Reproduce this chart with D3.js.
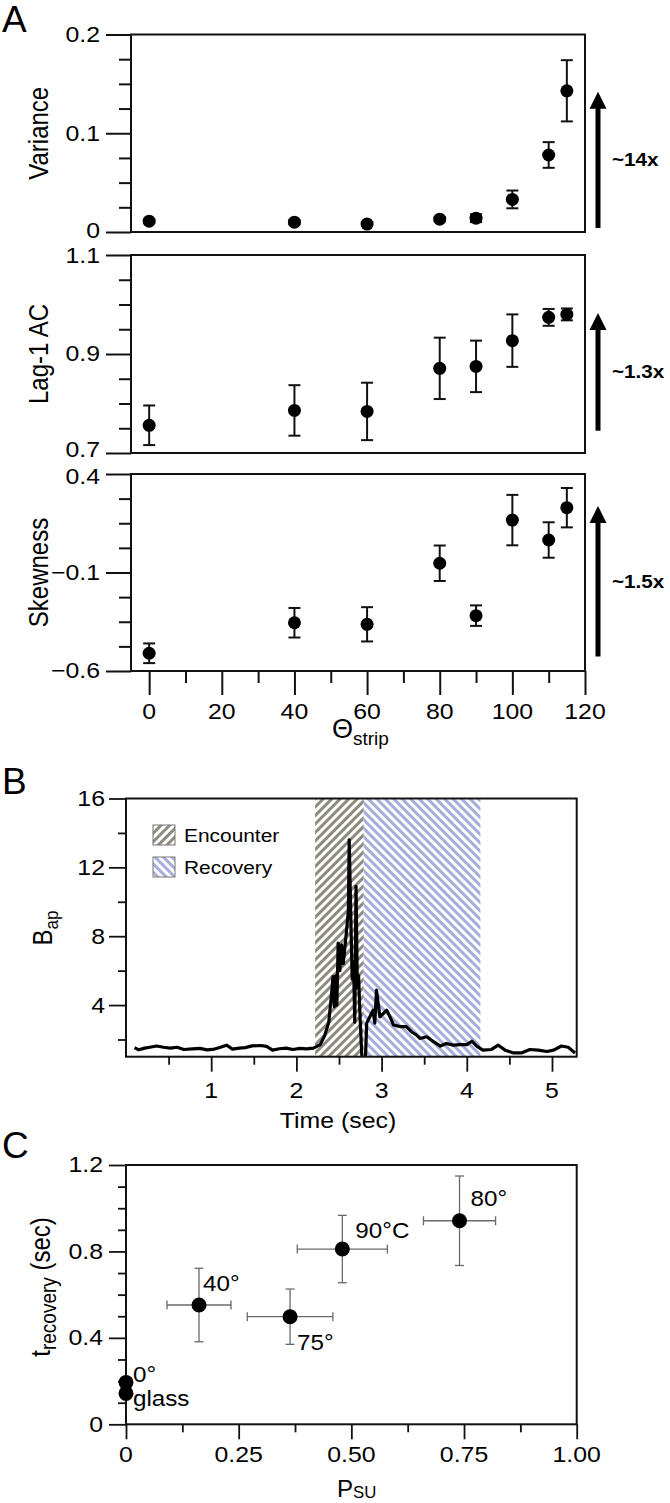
<!DOCTYPE html>
<html><head><meta charset="utf-8">
<script src="https://cdn.jsdelivr.net/npm/d3@7"></script>
<style>
body{margin:0;background:#fff}
svg{display:block}
text{font-family:"Liberation Sans",Arial,Helvetica,sans-serif;fill:#000}
</style>
</head><body>
<svg id="c" width="670" height="1503"></svg>
<script>
// ---------- Panel A data ----------
const thetaStrip   = [0, 40, 60, 80, 90, 100, 110, 115];
const varianceVal  = [0.011, 0.010, 0.008, 0.013, 0.014, 0.033, 0.078, 0.143];
const varianceErr  = [0.002, 0.002, 0.002, 0.002, 0.004, 0.009, 0.013, 0.031];
const lagACVal     = [0.756, 0.786, 0.784, 0.871, 0.875, 0.927, 0.974, 0.980];
const lagACErr     = [0.040, 0.051, 0.058, 0.062, 0.052, 0.053, 0.017, 0.012];
const skewVal      = [-0.510, -0.355, -0.363, -0.053, -0.319, 0.166, 0.065, 0.229];
const skewErr      = [0.050, 0.075, 0.087, 0.090, 0.052, 0.128, 0.090, 0.100];
const thetaTicks   = [0, 20, 40, 60, 80, 100, 120];
const thetaMinor   = [10, 30, 50, 70, 90, 110];
const varTicks     = [0, 0.1, 0.2];
const varTickLbl   = ["0", "0.1", "0.2"];
const varMinor     = [0.025, 0.05, 0.075, 0.125, 0.15, 0.175];
const acTicks      = [0.7, 0.9, 1.1];
const acTickLbl    = ["0.7", "0.9", "1.1"];
const acMinor      = [0.75, 0.8, 0.85, 0.95, 1.0, 1.05];
const skTicks      = [-0.6, -0.1, 0.4];
const skTickLbl    = ["\u22120.6", "\u22120.1", "0.4"];
const skMinor      = [-0.475, -0.35, -0.225, 0.025, 0.15, 0.275];
const varArrow     = [0.004, 0.142];
const acArrow      = [0.745, 0.983];
const skArrow      = [-0.527, 0.238];
const foldLabels   = ["~14x", "~1.3x", "~1.5x"];

// ---------- Panel B data ----------
const bTime  = [0.10,0.15,0.22,0.28,0.36,0.44,0.52,0.60,0.68,0.78,0.87,0.95,1.02,1.10,1.18,1.25,1.33,1.40,1.48,1.58,1.65,1.72,1.80,1.88,1.96,2.04,2.12,2.20,2.28,2.33,2.38,2.41,2.43,2.445,2.46,2.475,2.49,2.51,2.53,2.55,2.59,2.61,2.62,2.64,2.655,2.67,2.685,2.70,2.715,2.73,2.75,2.77,2.81,2.825,2.86,2.90,2.92,2.94,2.98,3.02,3.06,3.10,3.14,3.22,3.29,3.35,3.41,3.45,3.53,3.61,3.69,3.76,3.84,3.92,4.00,4.06,4.12,4.19,4.29,4.37,4.45,4.55,4.64,4.74,4.84,4.94,5.02,5.11,5.19,5.27];
const bValue = [1.53,1.40,1.50,1.55,1.62,1.55,1.50,1.55,1.42,1.46,1.48,1.40,1.42,1.53,1.67,1.44,1.50,1.53,1.63,1.65,1.60,1.38,1.46,1.50,1.42,1.48,1.45,1.50,1.70,2.20,3.00,4.50,5.65,3.90,5.70,4.00,7.60,6.00,7.50,6.40,8.40,9.50,13.6,8.80,5.50,6.50,3.00,10.9,5.00,5.70,3.00,0.80,0.80,2.95,3.30,3.70,2.95,4.87,3.32,3.50,3.70,3.30,2.84,2.75,2.75,2.45,2.26,2.06,2.16,1.87,1.62,1.77,1.67,1.70,1.70,1.90,1.60,1.38,1.42,1.67,1.38,1.22,1.22,1.42,1.38,1.30,1.38,1.62,1.55,1.22];
const encounterSpan = [2.22, 2.79];
const recoverySpan  = [2.79, 4.16];
const bLegend       = ["Encounter", "Recovery"];
const bYTicks = [4, 8, 12, 16];
const bYMinor = [2, 6, 10, 14];
const bXTicks = [1, 2, 3, 4, 5];
const bXMinor = [0.5, 1.5, 2.5, 3.5, 4.5];

// ---------- Panel C data ----------
const cLabels  = ["glass", "0\u00b0", "40\u00b0", "75\u00b0", "90\u00b0C", "80\u00b0"];
const cPsu     = [0, 0, 0.162, 0.364, 0.480, 0.740];
const cPsuErr  = [0, 0, 0.071, 0.095, 0.100, 0.080];
const cTrec    = [0.143, 0.194, 0.552, 0.498, 0.811, 0.942];
const cTrecErr = [0, 0, 0.170, 0.128, 0.156, 0.207];
const cXTicks  = [0, 0.25, 0.5, 0.75, 1.0];
const cXTickLbl= ["0", "0.25", "0.50", "0.75", "1.00"];
const cXMinor  = [0.125, 0.375, 0.625, 0.875];
const cYTicks  = [0, 0.4, 0.8, 1.2];
const cYTickLbl= ["0", "0.4", "0.8", "1.2"];
const cYMinor  = [0.1, 0.2, 0.3, 0.5, 0.6, 0.7, 0.9, 1.0, 1.1];

// ---------- helpers ----------
const SX = 1.13;
const svg = d3.select("#c");
const defs = svg.append("defs");

function label(x, y, parts, o = {}) {
  const t = svg.append("text")
    .attr("transform", `translate(${x},${y}) scale(${o.sx ?? SX},1)` + (o.rot ? " rotate(-90)" : ""))
    .attr("text-anchor", o.anchor || "start");
  if (o.central) t.attr("dominant-baseline", "central");
  if (o.weight) t.style("font-weight", o.weight);
  (typeof parts === "string" ? [{t: parts}] : parts).forEach(p => {
    t.append("tspan").text(p.t).style("font-size", (p.size || o.size || 22) + "px").attr("dy", p.dy || 0);
  });
  return t;
}
function styleAxis(g, w) {
  g.select(".domain").remove();
  g.selectAll(".tick line").attr("stroke", "#111").attr("stroke-width", w);
  g.selectAll(".tick text").remove();
}

// ---------- Panel A ----------
const xA = d3.scaleLinear().domain([-5, 120]).range([131, 585]);

function subA(yDom, yRange, majors, majorLbl, minors, vals, errs, title, arrow, fold, showX, lblNudge) {
  const y = d3.scaleLinear().domain(yDom).range(yRange);
  const g = svg.append("g");
  styleAxis(g.append("g").attr("transform", `translate(${xA.range()[0]},0)`)
    .call(d3.axisLeft(y).tickValues(majors).tickSize(25).tickFormat("")), 2);
  styleAxis(g.append("g").attr("transform", `translate(${xA.range()[0]},0)`)
    .call(d3.axisLeft(y).tickValues(minors).tickSize(12).tickFormat("")), 2);
  majors.forEach((v, i) => label(100, y(v) + (lblNudge[i] || 0), majorLbl[i], {anchor: "end", central: true, size: 22}));
  if (showX) {
    styleAxis(g.append("g").attr("transform", `translate(0,${y.range()[0]})`)
      .call(d3.axisBottom(xA).tickValues(thetaTicks).tickSize(24).tickFormat("")), 2);
    styleAxis(g.append("g").attr("transform", `translate(0,${y.range()[0]})`)
      .call(d3.axisBottom(xA).tickValues(thetaMinor).tickSize(12).tickFormat("")), 2);
    thetaTicks.forEach(v => label(xA(v), y.range()[0] + 41, String(v), {anchor: "middle", central: true, size: 22}));
  }
  g.append("rect").attr("x", xA.range()[0]).attr("y", y.range()[1])
    .attr("width", xA.range()[1] - xA.range()[0]).attr("height", y.range()[0] - y.range()[1])
    .attr("fill", "none").attr("stroke", "#111").attr("stroke-width", 2);
  const eb = g.append("g").attr("stroke", "#111").attr("stroke-width", 2);
  thetaStrip.forEach((t, i) => {
    const cx = xA(t), y1 = y(vals[i] + errs[i]), y2 = y(vals[i] - errs[i]);
    eb.append("line").attr("x1", cx).attr("x2", cx).attr("y1", y1).attr("y2", y2);
    eb.append("line").attr("x1", cx - 6).attr("x2", cx + 6).attr("y1", y1).attr("y2", y1);
    eb.append("line").attr("x1", cx - 6).attr("x2", cx + 6).attr("y1", y2).attr("y2", y2);
  });
  g.selectAll(null).data(thetaStrip).join("circle")
    .attr("cx", d => xA(d)).attr("cy", (d, i) => y(vals[i])).attr("r", 6.5).attr("fill", "#000");
  label(48, (y.range()[0] + y.range()[1]) / 2, title, {anchor: "middle", rot: true, size: 24});
  const ax = 598, yb = y(arrow[0]), yt = y(arrow[1]);
  g.append("line").attr("x1", ax).attr("x2", ax).attr("y1", yb).attr("y2", yt + 14)
    .attr("stroke", "#000").attr("stroke-width", 5);
  g.append("path").attr("d", `M${ax},${yt} L${ax - 8.5},${yt + 17} L${ax + 8.5},${yt + 17} Z`).attr("fill", "#000");
  label(612, (yb + yt) / 2, fold, {central: true, size: 18, weight: "bold", sx: 1.15});
}

subA([0, 0.2], [232, 34.5], varTicks, varTickLbl, varMinor, varianceVal, varianceErr, "Variance", varArrow, foldLabels[0], false, [-1, 0, 0]);
subA([0.7, 1.1], [453, 255], acTicks, acTickLbl, acMinor, lagACVal, lagACErr, "Lag-1 AC", acArrow, foldLabels[1], false, [-3, 0, 1]);
subA([-0.6, 0.4], [671, 474], skTicks, skTickLbl, skMinor, skewVal, skewErr, "Skewness", skArrow, foldLabels[2], true, [0, 0, 3]);

label(332, 738, [{t: "\u0398", size: 27}, {t: "strip", size: 19, dy: 7}], {sx: 1.0});
label(2, 32, "A", {size: 37, sx: 1.0});

// ---------- Panel B ----------
const xB = d3.scaleLinear().domain([0, 5.29]).range([126, 576.7]);
const yB = d3.scaleLinear().domain([1, 16]).range([1056.7, 798.5]);

function hatch(id, color, angle) {
  const p = defs.append("pattern").attr("id", id).attr("patternUnits", "userSpaceOnUse")
    .attr("width", 6).attr("height", 6).attr("patternTransform", `rotate(${angle})`);
  p.append("rect").attr("width", 6).attr("height", 6).attr("fill", "#fff");
  p.append("rect").attr("width", 3).attr("height", 6).attr("fill", color);
}
hatch("encH", "#8f8a80", 45);
hatch("recH", "#a6addb", -45);

defs.append("clipPath").attr("id", "clipB").append("rect")
  .attr("x", xB.range()[0]).attr("y", yB.range()[1])
  .attr("width", xB.range()[1] - xB.range()[0]).attr("height", yB.range()[0] - yB.range()[1]);

const gB = svg.append("g");
gB.append("rect").attr("x", xB(encounterSpan[0])).attr("y", yB.range()[1])
  .attr("width", xB(encounterSpan[1]) - xB(encounterSpan[0])).attr("height", yB.range()[0] - yB.range()[1])
  .attr("fill", "url(#encH)");
gB.append("rect").attr("x", xB(recoverySpan[0])).attr("y", yB.range()[1])
  .attr("width", xB(recoverySpan[1]) - xB(recoverySpan[0])).attr("height", yB.range()[0] - yB.range()[1])
  .attr("fill", "url(#recH)");

styleAxis(gB.append("g").attr("transform", `translate(${xB.range()[0]},0)`)
  .call(d3.axisLeft(yB).tickValues(bYTicks).tickSize(17).tickFormat("")), 1.8);
styleAxis(gB.append("g").attr("transform", `translate(${xB.range()[0]},0)`)
  .call(d3.axisLeft(yB).tickValues(bYMinor).tickSize(8).tickFormat("")), 1.8);
styleAxis(gB.append("g").attr("transform", `translate(0,${yB.range()[0]})`)
  .call(d3.axisBottom(xB).tickValues(bXTicks).tickSize(15).tickFormat("")), 1.8);
styleAxis(gB.append("g").attr("transform", `translate(0,${yB.range()[0]})`)
  .call(d3.axisBottom(xB).tickValues(bXMinor).tickSize(8).tickFormat("")), 1.8);
bYTicks.forEach(v => label(105, yB(v), String(v), {anchor: "end", central: true, size: 22}));
bXTicks.forEach(v => label(xB(v), 1091, String(v), {anchor: "middle", central: true, size: 22}));

const lineB = d3.line().x(d => xB(d[0])).y(d => yB(d[1]));
gB.append("path").datum(bTime.map((t, i) => [t, bValue[i]]))
  .attr("clip-path", "url(#clipB)")
  .attr("d", lineB).attr("fill", "none").attr("stroke", "#000").attr("stroke-width", 3.2)
  .attr("stroke-linejoin", "round");

gB.append("rect").attr("x", xB.range()[0]).attr("y", yB.range()[1])
  .attr("width", xB.range()[1] - xB.range()[0]).attr("height", yB.range()[0] - yB.range()[1])
  .attr("fill", "none").attr("stroke", "#111").attr("stroke-width", 2);

["encH", "recH"].forEach((id, i) => {
  const ly = 825 + i * 32;
  gB.append("rect").attr("x", 153).attr("y", ly).attr("width", 22).attr("height", 20)
    .attr("fill", `url(#${id})`).attr("stroke", "#777").attr("stroke-width", 1);
  label(184, ly + 10, bLegend[i], {central: true, size: 19, sx: 1.1});
});

label(52, 928, [{t: "B", size: 24}, {t: "ap", size: 17, dy: 5}], {anchor: "middle", rot: true});
label(338, 1128, "Time (sec)", {anchor: "middle", size: 22});
label(2, 794, "B", {size: 37, sx: 1.0});

// ---------- Panel C ----------
const xC = d3.scaleLinear().domain([0, 1]).range([126, 576.7]);
const yC = d3.scaleLinear().domain([0, 1.2]).range([1424.3, 1165]);
const gC = svg.append("g");

styleAxis(gC.append("g").attr("transform", `translate(${xC.range()[0]},0)`)
  .call(d3.axisLeft(yC).tickValues(cYTicks).tickSize(17).tickFormat("")), 1.8);
styleAxis(gC.append("g").attr("transform", `translate(${xC.range()[0]},0)`)
  .call(d3.axisLeft(yC).tickValues(cYMinor).tickSize(8).tickFormat("")), 1.8);
styleAxis(gC.append("g").attr("transform", `translate(0,${yC.range()[0]})`)
  .call(d3.axisBottom(xC).tickValues(cXTicks).tickSize(15).tickFormat("")), 1.8);
styleAxis(gC.append("g").attr("transform", `translate(0,${yC.range()[0]})`)
  .call(d3.axisBottom(xC).tickValues(cXMinor).tickSize(8).tickFormat("")), 1.8);
cYTicks.forEach((v, i) => label(103, yC(v), cYTickLbl[i], {anchor: "end", central: true, size: 22}));
cXTicks.forEach((v, i) => label(xC(v), 1455, cXTickLbl[i], {anchor: "middle", central: true, size: 22}));

gC.append("rect").attr("x", xC.range()[0]).attr("y", yC.range()[1])
  .attr("width", xC.range()[1] - xC.range()[0]).attr("height", yC.range()[0] - yC.range()[1])
  .attr("fill", "none").attr("stroke", "#111").attr("stroke-width", 2);

const ebC = gC.append("g").attr("stroke", "#6a6a6a").attr("stroke-width", 1.3);
cPsu.forEach((p, i) => {
  const cx = xC(p), cy = yC(cTrec[i]);
  if (cTrecErr[i] > 0) {
    const y1 = yC(cTrec[i] + cTrecErr[i]), y2 = yC(cTrec[i] - cTrecErr[i]);
    ebC.append("line").attr("x1", cx).attr("x2", cx).attr("y1", y1).attr("y2", y2);
    ebC.append("line").attr("x1", cx - 4.5).attr("x2", cx + 4.5).attr("y1", y1).attr("y2", y1);
    ebC.append("line").attr("x1", cx - 4.5).attr("x2", cx + 4.5).attr("y1", y2).attr("y2", y2);
  }
  if (cPsuErr[i] > 0) {
    const x1 = xC(p - cPsuErr[i]), x2 = xC(p + cPsuErr[i]);
    ebC.append("line").attr("x1", x1).attr("x2", x2).attr("y1", cy).attr("y2", cy);
    ebC.append("line").attr("x1", x1).attr("x2", x1).attr("y1", cy - 4.5).attr("y2", cy + 4.5);
    ebC.append("line").attr("x1", x2).attr("x2", x2).attr("y1", cy - 4.5).attr("y2", cy + 4.5);
  }
});
gC.selectAll(null).data(cPsu).join("circle")
  .attr("cx", d => xC(d)).attr("cy", (d, i) => yC(cTrec[i])).attr("r", 7.5).attr("fill", "#000");

const cLabelOffset = [[7, 4.5], [7, -8], [4, -22], [7, 26], [13, -19], [11, -22]];
cLabels.forEach((s, i) => {
  label(xC(cPsu[i]) + cLabelOffset[i][0], yC(cTrec[i]) + cLabelOffset[i][1], s, {central: true, size: 22, sx: 1.1});
});

label(50, 1287, [{t: "t", size: 24}, {t: "recovery", size: 19, dy: 5}, {t: " (sec)", size: 24, dy: -5}], {anchor: "middle", rot: true});
label(337, 1497, [{t: "P", size: 23}, {t: "SU", size: 16, dy: 1}], {sx: 1.05});
label(2, 1158, "C", {size: 37, sx: 1.0});
</script>
</body></html>
